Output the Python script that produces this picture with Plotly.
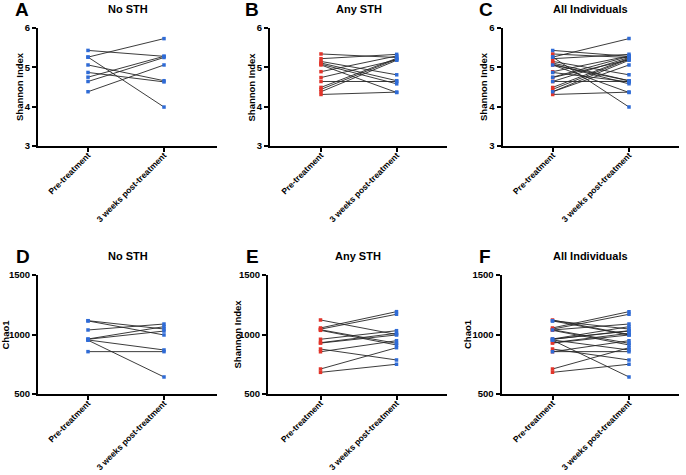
import plotly.graph_objects as go

W, H = 686, 475

categories = ["Pre-treatment", "3 weeks post-treatment"]
panel_letters = ["A", "B", "C", "D", "E", "F"]
panel_titles = ["No STH", "Any STH", "All Individuals", "No STH", "Any STH", "All Individuals"]
y_titles = ["Shannon Index", "Shannon Index", "Shannon Index", "Chao1", "Shannon Index", "Chao1"]
shannon_ticks = [3, 4, 5, 6]
chao_ticks = [500, 1000, 1500]

# No STH individuals (Shannon)
nosth_shannon_pre = [5.43, 5.26, 5.26, 5.06, 4.87, 4.75, 4.64, 4.38]
nosth_shannon_post = [5.28, 5.73, 3.99, 4.66, 4.63, 5.28, 5.25, 5.06]
# Any STH individuals (Shannon)
sth_shannon_pre = [5.34, 5.22, 5.15, 5.11, 5.08, 5.06, 4.89, 4.74, 4.64, 4.49, 4.44, 4.38, 4.31]
sth_shannon_post = [5.25, 5.33, 4.81, 4.66, 4.58, 4.36, 5.29, 5.19, 4.64, 5.23, 5.21, 5.18, 4.37]
# No STH individuals (Chao1)
nosth_chao_pre = [1116, 1114, 1038, 962, 960, 954, 952, 856]
nosth_chao_post = [1046, 996, 1088, 1066, 1029, 870, 643, 856]
# Any STH individuals (Chao1)
sth_chao_pre = [1122, 1055, 1045, 1040, 1035, 960, 931, 928, 878, 855, 710, 682]
sth_chao_post = [1000, 1192, 1170, 926, 912, 1032, 1010, 996, 786, 948, 889, 750]

BLUE = "#2f6bd6"
RED = "#e2352b"
LINE = "#262626"


def px(x):
    return x / W


def py(y):
    return 1 - y / H


# panel geometry in pixels: (left, right, top, bottom)
geom = [
    (38, 217, 28, 146),
    (270, 447, 28, 146),
    (502.5, 679, 28, 146),
    (38, 217, 275, 394),
    (268, 447, 275, 394),
    (501.5, 679, 275, 394),
]
pre_px = [88, 321, 552.7, 88, 320.5, 552.5]
post_px = [164, 396.7, 629, 164, 396.5, 629]
ytitle_x = [20, 251.5, 484, 5, 237, 467.5]
letter_x = [22.5, 252, 486, 23, 252, 485]
letter_y = [10, 10, 10, 256, 256, 256]
title_y = [9, 9, 9, 256, 256, 256]

fig = go.Figure()


def add_group(pre, post, pre_color, axis_idx):
    xs, ys, cols = [], [], []
    for a, b in zip(pre, post):
        xs += [0, 1, None]
        ys += [a, b, None]
        cols += [pre_color, BLUE, BLUE]
    suffix = "" if axis_idx == 1 else str(axis_idx)
    fig.add_trace(go.Scatter(
        x=xs, y=ys, mode="lines+markers",
        line=dict(color=LINE, width=0.9),
        marker=dict(symbol="square", size=3.5, color=cols, line=dict(width=0)),
        xaxis="x" + suffix, yaxis="y" + suffix,
        showlegend=False, hoverinfo="skip",
    ))


add_group(nosth_shannon_pre, nosth_shannon_post, BLUE, 1)
add_group(sth_shannon_pre, sth_shannon_post, RED, 2)
add_group(sth_shannon_pre, sth_shannon_post, RED, 3)
add_group(nosth_shannon_pre, nosth_shannon_post, BLUE, 3)
add_group(nosth_chao_pre, nosth_chao_post, BLUE, 4)
add_group(sth_chao_pre, sth_chao_post, RED, 5)
add_group(sth_chao_pre, sth_chao_post, RED, 6)
add_group(nosth_chao_pre, nosth_chao_post, BLUE, 6)

layout = dict(
    width=W, height=H,
    margin=dict(l=0, r=0, t=0, b=0, pad=0, autoexpand=False),
    paper_bgcolor="white", plot_bgcolor="white",
    font=dict(family="Arial", color="black"),
    showlegend=False,
)
annotations = []
for i in range(6):
    L, R, T, B = geom[i]
    unit = post_px[i] - pre_px[i]
    xr = [(L - pre_px[i]) / unit, (R - pre_px[i]) / unit]
    suffix = "" if i == 0 else str(i + 1)
    ticks = shannon_ticks if i < 3 else chao_ticks
    layout["xaxis" + suffix] = dict(
        domain=[px(L), px(R)], range=xr, anchor="y" + suffix,
        tickmode="array", tickvals=[0, 1], ticktext=categories,
        tickangle=-45, tickfont=dict(size=8.5, weight="bold", family="Arial"),
        showline=True, linecolor="black", linewidth=2,
        ticks="outside", ticklen=4, tickwidth=1.5, tickcolor="black",
        showgrid=False, zeroline=False, fixedrange=True, automargin=False,
    )
    layout["yaxis" + suffix] = dict(
        domain=[py(B), py(T)], range=[ticks[0], ticks[-1]], anchor="x" + suffix,
        tickmode="array", tickvals=ticks, ticktext=[str(t) for t in ticks],
        tickfont=dict(size=9.5, weight="bold", family="Arial"),
        showline=True, linecolor="black", linewidth=2,
        ticks="outside", ticklen=4, tickwidth=1.5, tickcolor="black",
        showgrid=False, zeroline=False, fixedrange=True, automargin=False,
    )
    annotations.append(dict(
        text="<b>" + panel_letters[i] + "</b>", x=px(letter_x[i]),
        y=py(letter_y[i]), xref="paper", yref="paper",
        showarrow=False, font=dict(size=19, family="Arial"), xanchor="center", yanchor="middle",
    ))
    annotations.append(dict(
        text="<b>" + panel_titles[i] + "</b>", x=px((L + R) / 2),
        y=py(title_y[i]), xref="paper", yref="paper",
        showarrow=False, font=dict(size=11, family="Arial"), xanchor="center", yanchor="middle",
    ))
    annotations.append(dict(
        text="<b>" + y_titles[i] + "</b>", x=px(ytitle_x[i]),
        y=py((T + B) / 2), xref="paper", yref="paper", textangle=-90,
        showarrow=False, font=dict(size=9.5, family="Arial"), xanchor="center", yanchor="middle",
    ))
layout["annotations"] = annotations
fig.update_layout(**layout)

# pull the rotated category labels a little closer to the axis
try:
    fig.update_xaxes(ticklabelstandoff=-5)
except Exception:
    fig.update_xaxes(tickfont=dict(size=8))

fig.write_html(
    "out.html",
    config={"displayModeBar": False},
    post_script="document.body.style.margin='0px';document.body.style.padding='0px';",
)
